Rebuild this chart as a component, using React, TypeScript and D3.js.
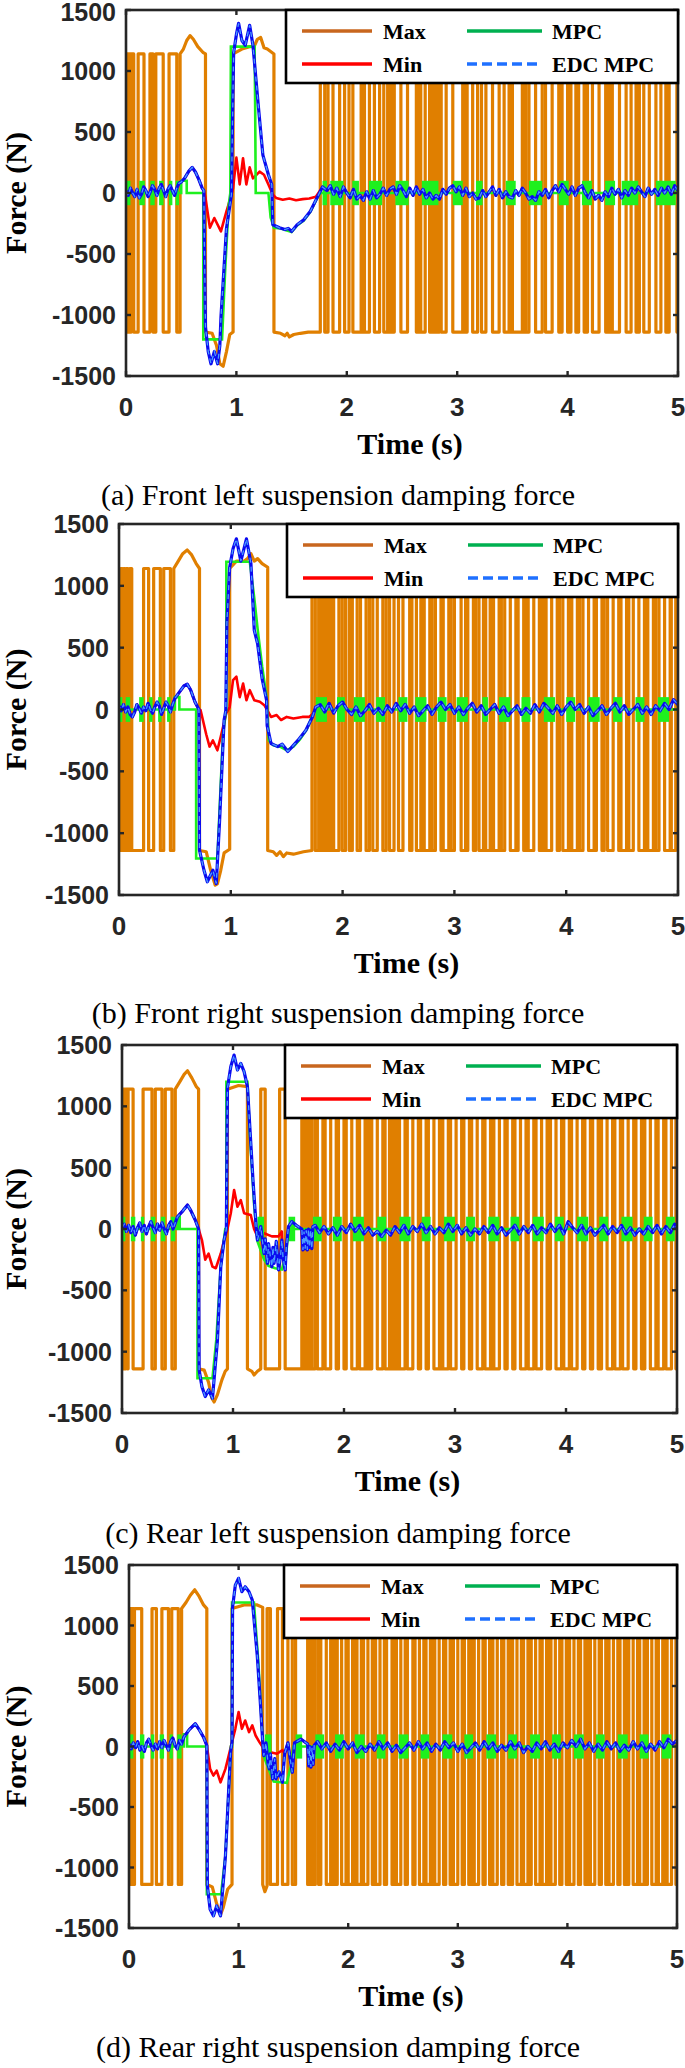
import React from "react";
import * as d3 from "d3";

type P = [number, number];

// ---------------- shared labels ----------------
const xTickValues = [0, 1, 2, 3, 4, 5];
const yTickValues = [-1500, -1000, -500, 0, 500, 1000, 1500];
const legendNames = ["Max", "Min", "MPC", "EDC MPC"];
const captionTexts = [
  "(a) Front left suspension damping force",
  "(b) Front right suspension damping force",
  "(c) Rear left suspension damping force",
  "(d) Rear right suspension damping force",
];
const xLabelText = "Time (s)";
const yLabelText = "Force (N)";
const saturation = 1140;
const chatterLevel = 100;

// ---------------- panel (a) ----------------
const maxEarlyA = [0.006, 0.012, 0.018, 0.024, 0.03, 0.036, 0.042, 0.048, 0.07, 0.11, 0.163, 0.217, 0.245, 0.27, 0.337, 0.39, 0.46, 0.49];
const maxMidA: P[] = [[0.49, 1140], [0.52, 1180], [0.55, 1250], [0.58, 1290], [0.61, 1260], [0.65, 1200], [0.7, 1150], [0.72, 1140], [0.72, -1140], [0.78, -1150], [0.82, -1250], [0.85, -1400], [0.88, -1420], [0.91, -1300], [0.94, -1160], [0.97, -1140], [0.97, 1140], [1.05, 1180], [1.12, 1200], [1.16, 1200], [1.19, 1260], [1.22, 1275], [1.25, 1190], [1.28, 1180], [1.31, 1160], [1.34, 1140], [1.34, -1140], [1.4, -1150], [1.44, -1170], [1.46, -1150], [1.48, -1180], [1.52, -1160], [1.58, -1150], [1.65, -1140], [1.76, -1140]];
const maxLateA = [1.76, 1.8, 1.83, 1.875, 1.935, 1.98, 2.02, 2.055, 2.13, 2.14, 2.15, 2.16, 2.205, 2.25, 2.297, 2.335, 2.37, 2.38, 2.39, 2.4, 2.41, 2.42, 2.43, 2.49, 2.55, 2.63, 2.64, 2.65, 2.66, 2.67, 2.71, 2.75, 2.76, 2.77, 2.78, 2.79, 2.8, 2.81, 2.82, 2.83, 2.84, 2.855, 2.9, 2.96, 3.05, 3.06, 3.07, 3.08, 3.09, 3.14, 3.185, 3.22, 3.26, 3.32, 3.38, 3.425, 3.47, 3.48, 3.49, 3.5, 3.59, 3.6, 3.61, 3.62, 3.65, 3.71, 3.77, 3.8, 3.86, 3.92, 3.93, 3.94, 3.95, 4.0, 4.01, 4.02, 4.03, 4.075, 4.085, 4.095, 4.1, 4.15, 4.16, 4.17, 4.18, 4.225, 4.285, 4.345, 4.355, 4.365, 4.375, 4.385, 4.395, 4.405, 4.47, 4.53, 4.575, 4.62, 4.63, 4.64, 4.65, 4.69, 4.74, 4.8, 4.845, 4.89, 4.9, 4.91, 4.92, 4.99];
const edcA: P[] = [[0, 20], [0.02, -20], [0.04, 40], [0.06, 0], [0.08, -30], [0.1, 30], [0.12, -40], [0.14, -10], [0.16, 50], [0.18, 20], [0.2, -30], [0.22, 10], [0.24, 60], [0.26, 30], [0.28, -20], [0.3, 40], [0.32, 70], [0.34, 20], [0.36, -30], [0.38, 30], [0.4, 60], [0.42, 20], [0.44, -20], [0.46, 40], [0.48, 80], [0.5, 90], [0.53, 120], [0.57, 180], [0.6, 210], [0.63, 170], [0.66, 110], [0.69, 40], [0.705, 20],
  [0.71, -400], [0.72, -1100], [0.745, -1300], [0.77, -1400], [0.8, -1300], [0.83, -1400], [0.85, -1250], [0.86, -1020], [0.91, -290], [0.955, -15], [0.965, 600], [0.975, 1150], [1.0, 1300], [1.02, 1390], [1.05, 1250], [1.08, 1210], [1.12, 1375], [1.15, 1210], [1.2, 700], [1.24, 310], [1.29, 150], [1.32, 70], [1.33, -260], [1.39, -285], [1.44, -300], [1.47, -290], [1.5, -315], [1.55, -260], [1.61, -220], [1.67, -150], [1.73, -40], [1.78, 50],
  [1.82, 20], [1.85, 60], [1.88, -10], [1.91, 40], [1.94, -30], [1.97, 50], [2.0, 0], [2.03, -40], [2.06, 30], [2.09, -50], [2.12, -20], [2.15, -60], [2.18, 10], [2.21, -50], [2.24, 20], [2.27, -40], [2.3, -10], [2.33, 40], [2.36, -20], [2.39, 30], [2.42, 50], [2.45, -10], [2.48, 60], [2.51, 20], [2.54, -30], [2.57, 40], [2.6, -20], [2.63, 50], [2.66, -10], [2.69, 30], [2.72, -40], [2.75, 0], [2.78, -50], [2.81, -20], [2.84, -50], [2.87, 30], [2.9, -10], [2.93, 40], [2.96, 60], [2.99, 10], [3.02, 50], [3.05, -20], [3.08, 40], [3.11, -30], [3.14, 0], [3.17, -50], [3.2, -40], [3.23, 20], [3.26, -30], [3.29, 10], [3.32, 50], [3.35, -20], [3.38, 30], [3.41, -40], [3.44, 10], [3.47, -30], [3.5, -40], [3.53, 20], [3.56, -20], [3.59, 40], [3.62, 0], [3.65, -50], [3.68, -30], [3.71, -60], [3.74, 10], [3.77, -20], [3.8, 30], [3.83, -40], [3.86, 20], [3.89, 60], [3.92, 10], [3.95, 70], [3.98, 30], [4.01, -10], [4.04, 50], [4.07, -20], [4.1, 40], [4.13, 60], [4.16, 0], [4.19, -40], [4.22, 20], [4.25, -50], [4.28, -20], [4.31, -60], [4.34, 10], [4.37, -30], [4.4, 40], [4.43, -10], [4.46, 30], [4.49, -40], [4.52, 20], [4.55, -20], [4.58, 40], [4.61, 0], [4.64, 50], [4.67, 10], [4.7, -30], [4.73, 40], [4.76, -10], [4.79, 30], [4.82, -20], [4.85, 40], [4.88, 0], [4.91, 50], [4.94, -10], [4.97, 60], [5.0, 20]];
const minDevA: P[] = [[0.705, 20], [0.72, -40], [0.76, -285], [0.8, -205], [0.86, -315], [0.91, -150], [0.955, -15], [0.97, 40], [1.0, 290], [1.03, 70], [1.06, 285], [1.09, 70], [1.12, 210], [1.15, 120], [1.21, 175], [1.25, 150], [1.29, 70], [1.33, -15], [1.36, -40], [1.42, -55], [1.48, -45], [1.54, -60], [1.6, -50], [1.66, -45], [1.72, -30], [1.78, 50]];
const mpcA: P[] = [[0, 0], [0.5, 0], [0.5, 100], [0.55, 100], [0.55, 0], [0.7, 0], [0.7, -1200], [0.87, -1200], [0.9, -600], [0.93, -100], [0.945, 0], [0.95, 1200], [1.165, 1200], [1.17, 700], [1.175, 0], [1.29, 0], [1.31, -200], [1.34, -285], [1.4, -290], [1.45, -305], [1.5, -320], [1.55, -265], [1.61, -225], [1.67, -155], [1.73, -45], [1.76, 0], [5, 0]];
const chatterA: P[] = [[0, 0.04], [0.12, 0.17], [0.22, 0.26], [0.3, 0.34], [0.39, 0.42], [0.45, 0.48], [1.78, 1.82], [1.85, 1.97], [2.05, 2.11], [2.2, 2.32], [2.44, 2.56], [2.68, 2.83], [2.96, 3.05], [3.17, 3.23], [3.44, 3.53], [3.65, 3.77], [3.92, 4.01], [4.13, 4.22], [4.34, 4.43], [4.49, 4.64], [4.8, 4.98]];

// ---------------- panel (b) ----------------
const maxEarlyB = [0.008, 0.016, 0.024, 0.032, 0.04, 0.048, 0.056, 0.064, 0.08, 0.095, 0.114, 0.22, 0.265, 0.31, 0.37, 0.4, 0.46, 0.49];
const maxMidB: P[] = [[0.49, 1140], [0.53, 1200], [0.57, 1260], [0.61, 1290], [0.65, 1250], [0.69, 1180], [0.72, 1140], [0.72, -1140], [0.78, -1150], [0.82, -1300], [0.86, -1420], [0.88, -1410], [0.91, -1300], [0.94, -1160], [0.99, -1130], [0.99, 1140], [1.05, 1200], [1.12, 1200], [1.15, 1220], [1.18, 1260], [1.21, 1200], [1.24, 1220], [1.28, 1180], [1.33, 1150], [1.33, -1140], [1.38, -1150], [1.41, -1180], [1.44, -1150], [1.47, -1190], [1.5, -1160], [1.56, -1170], [1.65, -1150], [1.726, -1140]];
const maxLateB = [1.726, 1.756, 1.786, 1.796, 1.806, 1.816, 1.826, 1.836, 1.846, 1.856, 1.866, 1.876, 1.886, 1.896, 1.907, 1.92, 1.967, 1.997, 2.027, 2.06, 2.087, 2.13, 2.16, 2.21, 2.24, 2.27, 2.31, 2.36, 2.39, 2.42, 2.46, 2.5, 2.54, 2.6, 2.62, 2.66, 2.7, 2.71, 2.72, 2.73, 2.78, 2.8, 2.83, 2.88, 2.89, 2.9, 2.95, 2.97, 3.0, 3.06, 3.1, 3.11, 3.12, 3.17, 3.19, 3.22, 3.26, 3.28, 3.32, 3.33, 3.34, 3.35, 3.4, 3.42, 3.45, 3.5, 3.55, 3.56, 3.57, 3.62, 3.64, 3.66, 3.71, 3.76, 3.78, 3.8, 3.81, 3.82, 3.87, 3.92, 3.94, 3.97, 4.02, 4.03, 4.04, 4.05, 4.1, 4.12, 4.15, 4.2, 4.25, 4.26, 4.27, 4.32, 4.34, 4.37, 4.42, 4.47, 4.48, 4.49, 4.54, 4.56, 4.6, 4.65, 4.7, 4.71, 4.72, 4.73, 4.78, 4.8, 4.83, 4.88, 4.93, 4.94, 4.98];
const edcB: P[] = [[0, 30], [0.02, -10], [0.04, 40], [0.06, -20], [0.08, 20], [0.1, -40], [0.12, -60], [0.14, -20], [0.16, 40], [0.18, 10], [0.2, -30], [0.22, 20], [0.24, -10], [0.26, 50], [0.28, 0], [0.3, -30], [0.32, 20], [0.34, 60], [0.36, 30], [0.38, -40], [0.4, 10], [0.42, 60], [0.44, 30], [0.46, -20], [0.48, 40], [0.5, 90], [0.54, 140], [0.58, 190], [0.61, 205], [0.64, 160], [0.68, 60], [0.715, 0],
  [0.72, -1137], [0.76, -1300], [0.79, -1393], [0.84, -1300], [0.87, -1407], [0.9, -895], [0.94, -86], [0.955, -10], [0.965, 700], [0.99, 1150], [1.02, 1300], [1.05, 1380], [1.09, 1200], [1.14, 1380], [1.18, 1180], [1.21, 640], [1.24, 530], [1.28, 250], [1.32, 75], [1.325, -130], [1.36, -275], [1.42, -300], [1.46, -280], [1.51, -340], [1.55, -300], [1.6, -250], [1.67, -170], [1.73, -60], [1.76, 20],
  [1.8, 40], [1.84, -20], [1.88, 50], [1.92, -30], [1.96, 30], [2.0, 60], [2.04, 0], [2.08, -40], [2.12, 20], [2.16, -50], [2.2, -10], [2.24, 40], [2.28, -30], [2.32, 10], [2.36, -40], [2.4, 30], [2.44, -20], [2.48, 50], [2.52, -10], [2.56, 40], [2.6, -30], [2.64, 20], [2.68, -50], [2.72, -10], [2.76, 30], [2.8, -40], [2.84, 20], [2.88, 60], [2.92, 0], [2.96, 40], [3.0, -30], [3.04, 20], [3.08, -40], [3.12, 10], [3.16, 50], [3.2, -20], [3.24, 30], [3.28, -40], [3.32, 0], [3.36, 40], [3.4, -30], [3.44, 20], [3.48, -50], [3.52, -10], [3.56, 30], [3.6, -40], [3.64, 10], [3.68, -30], [3.72, 40], [3.76, -20], [3.8, 50], [3.84, 10], [3.88, -30], [3.92, 30], [3.96, -40], [4.0, 20], [4.04, 60], [4.08, 0], [4.12, 40], [4.16, -30], [4.2, 20], [4.24, -50], [4.28, -10], [4.32, 30], [4.36, -40], [4.4, 10], [4.44, 50], [4.48, -20], [4.52, 30], [4.56, -40], [4.6, 0], [4.64, 40], [4.68, -30], [4.72, 20], [4.76, -40], [4.8, 30], [4.84, -10], [4.88, 50], [4.92, 0], [4.96, 80], [5.0, 40]];
const minDevB: P[] = [[0.715, 0], [0.73, -6], [0.78, -200], [0.81, -300], [0.84, -250], [0.88, -330], [0.91, -220], [0.96, -30], [0.99, 20], [1.02, 237], [1.05, 265], [1.08, 100], [1.11, 210], [1.14, 75], [1.17, 156], [1.21, 75], [1.26, 62], [1.3, 35], [1.36, -60], [1.41, -45], [1.45, -85], [1.5, -60], [1.56, -73], [1.64, -60], [1.7, -60], [1.74, -30], [1.76, 20]];
const mpcB: P[] = [[0, 0], [0.5, 0], [0.5, 100], [0.54, 100], [0.54, 0], [0.69, 0], [0.69, -1205], [0.88, -1205], [0.9, -800], [0.93, -200], [0.96, 0], [0.96, 1195], [1.17, 1195], [1.21, 900], [1.24, 650], [1.28, 350], [1.32, 100], [1.34, -250], [1.38, -290], [1.44, -300], [1.5, -330], [1.56, -300], [1.62, -240], [1.68, -160], [1.73, -50], [1.76, 0], [5, 0]];
const chatterB: P[] = [[0, 0.03], [0.06, 0.1], [0.18, 0.22], [0.27, 0.3], [0.35, 0.38], [0.43, 0.46], [1.76, 1.86], [1.95, 2.02], [2.1, 2.2], [2.3, 2.38], [2.5, 2.58], [2.65, 2.75], [2.85, 2.93], [3.02, 3.12], [3.25, 3.3], [3.4, 3.5], [3.6, 3.68], [3.8, 3.9], [4.0, 4.08], [4.2, 4.3], [4.42, 4.5], [4.62, 4.7], [4.82, 4.92]];

// ---------------- panel (c) ----------------
const maxEarlyC = [0.006, 0.012, 0.018, 0.024, 0.03, 0.036, 0.05, 0.055, 0.1, 0.19, 0.27, 0.3, 0.36, 0.39, 0.45, 0.48];
const maxMidC: P[] = [[0.48, 1140], [0.52, 1200], [0.56, 1260], [0.59, 1290], [0.63, 1230], [0.67, 1160], [0.69, 1140], [0.69, -1140], [0.74, -1150], [0.78, -1250], [0.81, -1380], [0.83, -1410], [0.86, -1350], [0.9, -1230], [0.93, -1160], [0.95, -1140], [0.95, 1140], [1.05, 1170], [1.13, 1160], [1.13, -1140], [1.17, -1160], [1.19, -1190], [1.22, -1160], [1.25, -1140]];
const maxLateC = [1.25, 1.29, 1.42, 1.47, 1.62, 1.63, 1.64, 1.65, 1.66, 1.67, 1.68, 1.69, 1.7, 1.71, 1.74, 1.76, 1.81, 1.83, 1.88, 1.93, 1.95, 2.0, 2.02, 2.07, 2.12, 2.14, 2.19, 2.2, 2.21, 2.22, 2.23, 2.24, 2.25, 2.3, 2.35, 2.37, 2.41, 2.42, 2.43, 2.44, 2.45, 2.46, 2.47, 2.48, 2.49, 2.5, 2.55, 2.57, 2.62, 2.67, 2.69, 2.74, 2.76, 2.81, 2.86, 2.87, 2.88, 2.89, 2.94, 2.96, 3.01, 3.06, 3.08, 3.13, 3.15, 3.2, 3.25, 3.27, 3.32, 3.33, 3.34, 3.35, 3.4, 3.45, 3.47, 3.52, 3.54, 3.59, 3.64, 3.66, 3.71, 3.73, 3.78, 3.83, 3.84, 3.85, 3.86, 3.91, 3.96, 3.98, 4.03, 4.05, 4.1, 4.15, 4.17, 4.22, 4.24, 4.29, 4.3, 4.31, 4.32, 4.37, 4.42, 4.44, 4.49, 4.51, 4.56, 4.61, 4.63, 4.68, 4.69, 4.7, 4.71, 4.76, 4.81, 4.83, 4.88, 4.9, 4.95, 4.99];
const edcC: P[] = [[0, 10], [0.02, 40], [0.04, -20], [0.06, 30], [0.08, -30], [0.1, 20], [0.12, -50], [0.14, 10], [0.16, 50], [0.18, -20], [0.2, 30], [0.22, -40], [0.24, 20], [0.26, 60], [0.28, 10], [0.3, -30], [0.32, 40], [0.34, -10], [0.36, 50], [0.38, 0], [0.4, -40], [0.42, 30], [0.44, 60], [0.46, 0], [0.48, 50], [0.5, 100], [0.55, 150], [0.59, 196], [0.62, 150], [0.66, 73], [0.69, 0],
  [0.695, -1150], [0.72, -1285], [0.75, -1366], [0.78, -1312], [0.815, -1380], [0.86, -905], [0.89, -307], [0.92, -90], [0.94, 0], [0.95, 1150], [0.98, 1323], [1.01, 1418], [1.04, 1296], [1.07, 1350], [1.1, 1283], [1.13, 1160], [1.18, 400], [1.21, 0], [1.22, -90], [1.25, 20], [1.26, -60], [1.28, -200], [1.29, -80], [1.31, -280], [1.32, -120], [1.35, -307], [1.36, -150], [1.37, -280], [1.39, -100], [1.41, -334], [1.43, -200], [1.44, -90], [1.45, -225], [1.47, -334], [1.48, -150], [1.5, 20], [1.53, 60], [1.57, 30], [1.62, 0], [1.63, -170], [1.64, -20], [1.65, -160], [1.66, -10], [1.67, -170], [1.68, 0], [1.69, -150], [1.7, -10], [1.71, -160], [1.72, 20],
  [1.74, 30], [1.78, -30], [1.82, 20], [1.86, -40], [1.9, 10], [1.94, -50], [1.98, 20], [2.02, -30], [2.06, 40], [2.1, -20], [2.14, 30], [2.18, -40], [2.22, 10], [2.26, -50], [2.3, -20], [2.34, -60], [2.38, -10], [2.42, -50], [2.46, 20], [2.5, -30], [2.54, 30], [2.58, -40], [2.62, 20], [2.66, -20], [2.7, 40], [2.74, -30], [2.78, 20], [2.82, -40], [2.86, 10], [2.9, -30], [2.94, 40], [2.98, -20], [3.02, 30], [3.06, -40], [3.1, 10], [3.14, -50], [3.18, 0], [3.22, -40], [3.26, 20], [3.3, -30], [3.34, 30], [3.38, -40], [3.42, 10], [3.46, -50], [3.5, -10], [3.54, 30], [3.58, -40], [3.62, 20], [3.66, -30], [3.7, 30], [3.74, -40], [3.78, 10], [3.82, -30], [3.86, 40], [3.9, -20], [3.94, 30], [3.98, -40], [4.02, 60], [4.06, 10], [4.1, -30], [4.14, 30], [4.18, -40], [4.22, 10], [4.26, -50], [4.3, -10], [4.34, 30], [4.38, -40], [4.42, 20], [4.46, -30], [4.5, 30], [4.54, -40], [4.58, 10], [4.62, -50], [4.66, 0], [4.7, -40], [4.74, 20], [4.78, -30], [4.82, 30], [4.86, -40], [4.9, 20], [4.94, -30], [4.98, 40], [5.0, 10]];
const minDevC: P[] = [[0.69, 0], [0.72, -90], [0.75, -250], [0.78, -200], [0.815, -307], [0.845, -320], [0.89, -200], [0.92, -90], [0.95, 0], [0.98, 128], [1.01, 318], [1.04, 182], [1.07, 236], [1.1, 128], [1.16, 114], [1.19, 0], [1.22, -60], [1.28, -35], [1.35, -60], [1.41, -60], [1.44, -20]];
const mpcC: P[] = [[0, 0], [0.5, 0], [0.5, 100], [0.52, 100], [0.52, 0], [0.68, 0], [0.68, -1217], [0.815, -1217], [0.85, -900], [0.89, -300], [0.93, 0], [0.94, 0], [0.94, 1200], [1.13, 1200], [1.15, 800], [1.19, 200], [1.22, -100], [1.28, -250], [1.32, -300], [1.38, -320], [1.44, -330], [1.48, -200], [1.5, 0], [5, 0]];
const chatterC: P[] = [[0, 0.03], [0.08, 0.12], [0.17, 0.2], [0.26, 0.3], [0.35, 0.39], [0.44, 0.48], [1.22, 1.28], [1.5, 1.56], [1.72, 1.8], [1.9, 1.98], [2.08, 2.18], [2.3, 2.38], [2.5, 2.6], [2.7, 2.78], [2.9, 3.0], [3.1, 3.18], [3.3, 3.4], [3.5, 3.58], [3.7, 3.8], [3.9, 3.98], [4.1, 4.2], [4.3, 4.38], [4.5, 4.6], [4.7, 4.78], [4.9, 4.98]];

// ---------------- panel (d) ----------------
const maxEarlyD = [0.006, 0.012, 0.018, 0.024, 0.03, 0.036, 0.042, 0.05, 0.116, 0.21, 0.25, 0.3, 0.36, 0.39, 0.45, 0.48];
const maxMidD: P[] = [[0.48, 1140], [0.52, 1190], [0.56, 1250], [0.6, 1295], [0.64, 1240], [0.68, 1170], [0.71, 1140], [0.71, -1140], [0.76, -1160], [0.8, -1300], [0.835, -1390], [0.86, -1330], [0.9, -1180], [0.94, -1140], [0.94, 1140], [1.05, 1170], [1.17, 1170], [1.22, 1150], [1.22, -1140], [1.24, -1200], [1.26, -1150]];
const maxLateD = [1.26, 1.29, 1.355, 1.4, 1.45, 1.49, 1.52, 1.63, 1.64, 1.65, 1.66, 1.67, 1.68, 1.69, 1.7, 1.73, 1.75, 1.8, 1.84, 1.86, 1.88, 1.89, 1.9, 1.94, 1.98, 2.0, 2.04, 2.06, 2.07, 2.08, 2.12, 2.14, 2.18, 2.22, 2.24, 2.25, 2.29, 2.33, 2.35, 2.4, 2.41, 2.42, 2.43, 2.44, 2.48, 2.52, 2.54, 2.59, 2.61, 2.65, 2.69, 2.71, 2.75, 2.77, 2.78, 2.79, 2.83, 2.87, 2.89, 2.93, 2.95, 2.96, 3.0, 3.04, 3.06, 3.1, 3.12, 3.13, 3.14, 3.15, 3.19, 3.23, 3.25, 3.29, 3.31, 3.32, 3.36, 3.4, 3.42, 3.46, 3.48, 3.49, 3.5, 3.54, 3.58, 3.6, 3.64, 3.66, 3.67, 3.71, 3.75, 3.77, 3.81, 3.83, 3.84, 3.85, 3.89, 3.93, 3.95, 3.99, 4.01, 4.02, 4.06, 4.1, 4.12, 4.16, 4.18, 4.19, 4.2, 4.21, 4.25, 4.29, 4.31, 4.35, 4.37, 4.38, 4.42, 4.46, 4.48, 4.52, 4.54, 4.55, 4.56, 4.6, 4.64, 4.66, 4.7, 4.72, 4.73, 4.77, 4.81, 4.83, 4.87, 4.89, 4.9, 4.91, 4.95, 4.99];
const edcD: P[] = [[0, 20], [0.02, -20], [0.04, 30], [0.06, -10], [0.08, 40], [0.1, -30], [0.12, 0], [0.14, -40], [0.16, 30], [0.18, 60], [0.2, 10], [0.22, -30], [0.24, 20], [0.26, -20], [0.28, 40], [0.3, -10], [0.32, 50], [0.34, 10], [0.36, -30], [0.38, 40], [0.4, 70], [0.42, 10], [0.44, -20], [0.46, 50], [0.48, 20], [0.5, 77], [0.55, 140], [0.605, 188], [0.64, 140], [0.68, 77], [0.71, 8],
  [0.715, -1150], [0.74, -1345], [0.77, -1400], [0.8, -1318], [0.835, -1400], [0.88, -903], [0.91, -350], [0.927, -47], [0.94, 36], [0.945, 1150], [0.97, 1334], [1.0, 1390], [1.03, 1279], [1.06, 1320], [1.095, 1279], [1.125, 1210], [1.17, 754], [1.2, 340], [1.22, 36], [1.23, -75], [1.25, 30], [1.27, -150], [1.28, -185], [1.29, -60], [1.31, -268], [1.33, -100], [1.34, -268], [1.37, -210], [1.4, -296], [1.42, -60], [1.45, 30], [1.47, -100], [1.49, -213], [1.51, 30], [1.57, 60], [1.63, 20], [1.64, -160], [1.65, 0], [1.66, -170], [1.67, -10], [1.68, -150], [1.69, 10],
  [1.72, 40], [1.76, -20], [1.8, 30], [1.84, -40], [1.88, 20], [1.92, -30], [1.96, 40], [2.0, -20], [2.04, 30], [2.08, -50], [2.12, 0], [2.16, -40], [2.2, 20], [2.24, -30], [2.28, 40], [2.32, -20], [2.36, 30], [2.4, -40], [2.44, 10], [2.48, -50], [2.52, -10], [2.56, 30], [2.6, -30], [2.64, 40], [2.68, -20], [2.72, 30], [2.76, -40], [2.8, 20], [2.84, -30], [2.88, 40], [2.92, -10], [2.96, 30], [3.0, -40], [3.04, 20], [3.08, -50], [3.12, -10], [3.16, 30], [3.2, -30], [3.24, 40], [3.28, -20], [3.32, 30], [3.36, -40], [3.4, 10], [3.44, -30], [3.48, 40], [3.52, -20], [3.56, 30], [3.6, -50], [3.64, 0], [3.68, -40], [3.72, 30], [3.76, -20], [3.8, 40], [3.84, -30], [3.88, 20], [3.92, -40], [3.96, 30], [4.0, -10], [4.04, 50], [4.08, 0], [4.12, 60], [4.16, -20], [4.2, 30], [4.24, -40], [4.28, 20], [4.32, -30], [4.36, 40], [4.4, -20], [4.44, 30], [4.48, -40], [4.52, 10], [4.56, -30], [4.6, 40], [4.64, -20], [4.68, 30], [4.72, -40], [4.76, 20], [4.8, -30], [4.84, 40], [4.88, -10], [4.92, 60], [4.96, 20], [5.0, 50]];
const minDevD: P[] = [[0.71, 8], [0.74, -185], [0.77, -240], [0.8, -200], [0.835, -296], [0.88, -185], [0.91, -75], [0.94, 36], [0.97, 146], [1.0, 285], [1.03, 146], [1.06, 215], [1.095, 119], [1.125, 174], [1.155, 91], [1.19, 36], [1.23, -19], [1.29, -47], [1.35, -60], [1.4, -30]];
const mpcD: P[] = [[0, 0], [0.5, 0], [0.5, 100], [0.53, 100], [0.53, 0], [0.71, 0], [0.71, -1221], [0.84, -1221], [0.88, -900], [0.91, -350], [0.93, 0], [0.94, 0], [0.94, 1190], [1.14, 1190], [1.18, 700], [1.21, 200], [1.23, -80], [1.28, -200], [1.32, -290], [1.38, -296], [1.44, -300], [1.48, -150], [1.5, 0], [5, 0]];
const chatterD: P[] = [[0, 0.04], [0.1, 0.14], [0.2, 0.23], [0.28, 0.32], [0.37, 0.4], [0.44, 0.48], [1.24, 1.3], [1.52, 1.58], [1.7, 1.78], [1.88, 1.96], [2.06, 2.15], [2.26, 2.34], [2.46, 2.55], [2.66, 2.74], [2.86, 2.95], [3.06, 3.14], [3.26, 3.35], [3.46, 3.54], [3.66, 3.75], [3.86, 3.94], [4.06, 4.15], [4.26, 4.34], [4.46, 4.55], [4.66, 4.74], [4.86, 4.95]];

// ---------------- layout (pixels) ----------------
const frames = [
  { left: 126, right: 678, top: 10, bottom: 376, caption: 505, legendLeft: 286 },
  { left: 119, right: 678, top: 524, bottom: 895, caption: 1023, legendLeft: 287 },
  { left: 122, right: 677, top: 1045, bottom: 1413, caption: 1543, legendLeft: 285 },
  { left: 129, right: 677, top: 1565, bottom: 1928, caption: 2057, legendLeft: 284 },
];
const yLabelX = 26;

const panels = [
  { early: maxEarlyA, mid: maxMidA, late: maxLateA, edc: edcA, minDev: minDevA, mpc: mpcA, chatter: chatterA },
  { early: maxEarlyB, mid: maxMidB, late: maxLateB, edc: edcB, minDev: minDevB, mpc: mpcB, chatter: chatterB },
  { early: maxEarlyC, mid: maxMidC, late: maxLateC, edc: edcC, minDev: minDevC, mpc: mpcC, chatter: chatterC },
  { early: maxEarlyD, mid: maxMidD, late: maxLateD, edc: edcD, minDev: minDevD, mpc: mpcD, chatter: chatterD },
];

// square wave built from the toggle instants
function squareWave(t0: number, level: number, toggles: number[], tEnd: number): P[] {
  const pts: P[] = [[t0, level]];
  let lv = level;
  for (const t of toggles) {
    pts.push([t, lv]);
    lv = -lv;
    pts.push([t, lv]);
  }
  pts.push([tEnd, lv]);
  return pts;
}

function buildMax(p: typeof panels[number]): P[] {
  const first = p.mid[0][0];
  const last = p.mid[p.mid.length - 1];
  const a = squareWave(0, saturation, p.early, first);
  const b = squareWave(last[0], last[1] > 0 ? saturation : -saturation, p.late, 5);
  return [...a, ...p.mid, ...b];
}

function buildMin(p: typeof panels[number]): P[] {
  const t0 = p.minDev[0][0];
  const t1 = p.minDev[p.minDev.length - 1][0];
  return [...p.edc.filter((d) => d[0] < t0), ...p.minDev, ...p.edc.filter((d) => d[0] > t1)];
}

const COL = {
  axis: "#262626",
  max: "#E07F00",
  maxLegend: "#C8661E",
  min: "#FF0000",
  mpc: "#1EF01E",
  mpcLegend: "#00B050",
  edc: "#0A0AF0",
  edcDash: "#4A9CFF",
  edcLegend: "#1F70FF",
};

const serif = "'Liberation Serif', 'Times New Roman', serif";
const sans = "'Liberation Sans', Arial, sans-serif";

function Panel({ idx }: { idx: number }) {
  const f = frames[idx];
  const p = panels[idx];
  const x = d3.scaleLinear().domain([0, 5]).range([f.left, f.right]);
  const y = d3.scaleLinear().domain([-1500, 1500]).range([f.bottom, f.top]);
  const line = d3.line<P>().x((d) => x(d[0])).y((d) => y(d[1]));
  const clipId = `clip${idx}`;
  const maxPts = buildMax(p);
  const minPts = buildMin(p);
  const tick = 5;
  const cx = (f.left + f.right) / 2;
  const cy = (f.top + f.bottom) / 2;
  const lgL = f.legendLeft;
  const lgT = f.top;
  const lgW = f.right - lgL;
  const lgH = 73;
  const row1 = lgT + 21;
  const row2 = lgT + 54;
  const legendItems: [string, number, number][] = [
    [legendNames[0], lgL + 97, row1],
    [legendNames[1], lgL + 97, row2],
    [legendNames[2], lgL + 266, row1],
    [legendNames[3], lgL + 266, row2],
  ];
  return (
    <g>
      <defs>
        <clipPath id={clipId}>
          <rect x={f.left} y={f.top} width={f.right - f.left} height={f.bottom - f.top} />
        </clipPath>
      </defs>
      <g clipPath={`url(#${clipId})`}>
        <path d={line(maxPts) || ""} fill="none" stroke={COL.max} strokeWidth={3.2} strokeLinejoin="round" />
        <path d={line(minPts) || ""} fill="none" stroke={COL.min} strokeWidth={2.6} strokeLinejoin="round" />
        {p.chatter.map((c, i) => (
          <rect key={i} x={x(c[0])} width={x(c[1]) - x(c[0])} y={y(chatterLevel)} height={y(-chatterLevel) - y(chatterLevel)} fill={COL.mpc} />
        ))}
        <path d={line(p.mpc) || ""} fill="none" stroke={COL.mpc} strokeWidth={2.6} />
        <path d={line(p.edc) || ""} fill="none" stroke={COL.edc} strokeWidth={3.2} strokeLinejoin="round" />
        <path d={line(p.edc) || ""} fill="none" stroke={COL.edcDash} strokeWidth={1.3} strokeDasharray="5,4" />
      </g>
      <rect x={f.left} y={f.top} width={f.right - f.left} height={f.bottom - f.top} fill="none" stroke={COL.axis} strokeWidth={2.6} />
      {xTickValues.map((t) => (
        <g key={"x" + t}>
          <line x1={x(t)} x2={x(t)} y1={f.bottom} y2={f.bottom - tick} stroke={COL.axis} strokeWidth={2.4} />
          <line x1={x(t)} x2={x(t)} y1={f.top} y2={f.top + tick} stroke={COL.axis} strokeWidth={2.4} />
          <text x={x(t)} y={f.bottom + 40} textAnchor="middle" fontFamily={sans} fontWeight="bold" fontSize={26} fill={COL.axis}>{t}</text>
        </g>
      ))}
      {yTickValues.map((v) => (
        <g key={"y" + v}>
          <line x1={f.left} x2={f.left + tick} y1={y(v)} y2={y(v)} stroke={COL.axis} strokeWidth={2.4} />
          <line x1={f.right} x2={f.right - tick} y1={y(v)} y2={y(v)} stroke={COL.axis} strokeWidth={2.4} />
          <text x={f.left - 10} y={y(v) + 9} dominantBaseline="auto" textAnchor="end" fontFamily={sans} fontWeight="bold" fontSize={25} fill={COL.axis} dy={Math.max(0, 21 - (y(v) + 9))}>{v}</text>
        </g>
      ))}
      <text x={cx + 8} y={f.bottom + 78} textAnchor="middle" fontFamily={serif} fontWeight="bold" fontSize={30} fill="#000">{xLabelText}</text>
      <text transform={`translate(${yLabelX},${cy}) rotate(-90)`} textAnchor="middle" fontFamily={serif} fontWeight="bold" fontSize={30} fill="#000">{yLabelText}</text>
      <text x={338} y={f.caption} textAnchor="middle" fontFamily={serif} fontSize={30} fill="#000">{captionTexts[idx]}</text>
      <rect x={lgL} y={lgT} width={lgW} height={lgH} fill="#fff" stroke="#000" strokeWidth={2.6} />
      <line x1={lgL + 16} x2={lgL + 86} y1={row1} y2={row1} stroke={COL.maxLegend} strokeWidth={3.5} />
      <line x1={lgL + 16} x2={lgL + 86} y1={row2} y2={row2} stroke={COL.min} strokeWidth={3.5} />
      <line x1={lgL + 181} x2={lgL + 256} y1={row1} y2={row1} stroke={COL.mpcLegend} strokeWidth={3.5} />
      <line x1={lgL + 181} x2={lgL + 256} y1={row2} y2={row2} stroke={COL.edcLegend} strokeWidth={3.5} strokeDasharray="10,5" />
      {legendItems.map(([s, lx, ly]) => (
        <text key={s} x={lx} y={ly + 8} fontFamily={serif} fontWeight="bold" fontSize={22} fill="#000">{s}</text>
      ))}
    </g>
  );
}

export default function App() {
  return (
    <svg width={685} height={2068} viewBox="0 0 685 2068" style={{ position: "absolute", left: 0, top: 0, background: "#fff" }}>
      <rect x={0} y={0} width={685} height={2068} fill="#fff" />
      {frames.map((_, i) => (
        <Panel key={i} idx={i} />
      ))}
    </svg>
  );
}
